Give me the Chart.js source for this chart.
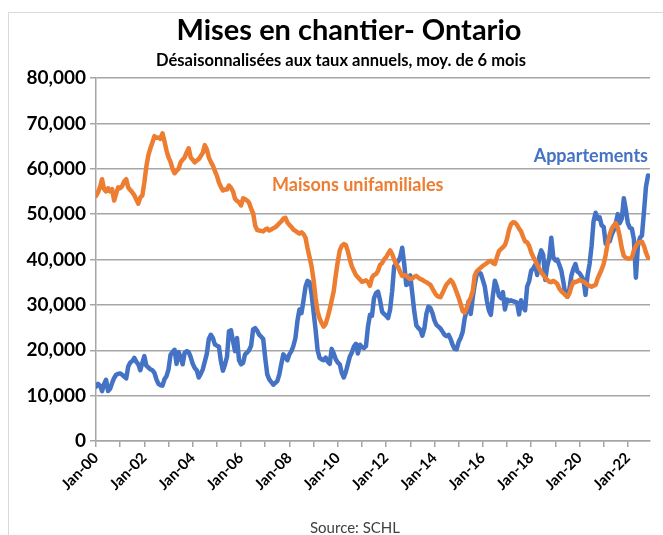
<!DOCTYPE html>
<html>
<head>
<meta charset="utf-8">
<script src="https://cdn.jsdelivr.net/npm/chart.js@4.4.1/dist/chart.umd.min.js"></script>
<style>
  html, body { margin: 0; padding: 0; background: #ffffff; }
  #wrap { width: 663px; height: 535px; position: relative; }
</style>
</head>
<body>
<div id="wrap"><canvas id="c" width="663" height="535"></canvas></div>
<script>
// ---- Data (monthly, Jan-2000 .. Nov-2022), SAAR, 6-month moving average ----
const startYear = 2000;
const xTickLabels = ['Jan-00','Jan-02','Jan-04','Jan-06','Jan-08','Jan-10','Jan-12','Jan-14','Jan-16','Jan-18','Jan-20','Jan-22'];
const seriesNames = ['Maisons unifamiliales', 'Appartements'];

const maisons = [
  54000, 54800, 56000, 57700, 55500, 55000, 55700, 55000, 55500, 53000, 54500, 55900,
  55700, 56200, 57200, 57700, 55900, 55300, 54800, 54200, 53200, 52300, 53700, 54100,
  57000, 60500, 63000, 64500, 65800, 67200, 66800, 66900, 66600, 67800, 66000, 64000,
  62500, 61500, 60000, 59000, 59600, 60000, 61400, 62000, 62500, 63600, 64500, 62500,
  62000, 61400, 61800, 62100, 62800, 63500, 65200, 64300, 62500, 61500, 60700, 59500,
  58500, 57000, 56000, 55200, 55400, 55400, 56300, 55800, 55000, 53400, 52900, 52600,
  51900, 53500, 53300, 53000, 52500, 51200, 50200, 47500, 46500, 46400, 46300, 46200,
  46600, 46800, 46400, 46600, 46900, 47100, 47500, 48000, 48400, 49000, 49200, 48200,
  47600, 47200, 46600, 46300, 46000, 45700, 46000, 45600, 44800, 42500, 40500, 38500,
  35500, 31500, 28500, 27000, 26000, 25200, 25800, 27300, 29000, 31000, 33000, 36500,
  39500, 42000, 43000, 43400, 43200, 41800, 40000, 38500, 37500, 36600, 36100, 35600,
  35100, 35200, 35400, 35000, 34200, 36000, 36600, 36800, 37500, 38800, 39200, 40000,
  40500, 41300, 42000, 41200, 40000, 39000, 38300, 37200, 36400, 36600, 36400, 36000,
  35700, 35800, 36200, 36400, 36000, 35700, 35500, 35200, 35000, 34700, 34400, 33600,
  32800, 32100, 31800, 31700, 32600, 33600, 34500, 35000, 35500, 35000, 34000, 32800,
  31600, 30200, 28600, 28300, 29300, 30600, 31600, 33000, 36500, 37400, 37800, 38200,
  38600, 38900, 39200, 39600, 39700, 39200, 39000, 40500, 41800, 42300, 42700, 43200,
  44500, 46500, 47800, 48200, 48100, 47600, 46800, 46200, 45000, 44000, 43800, 43000,
  41600, 40600, 39800, 38800, 38000, 37200, 36600, 36000, 35500, 35100, 35000, 35300,
  35000, 34600, 33600, 33000, 32600, 32200, 31800, 32500, 34000, 35100, 35000, 35200,
  35500, 35300, 35100, 34800, 34400, 34200, 34000, 34200, 34400, 35800, 36800, 37800,
  39000, 41000, 43600, 45500, 46800, 47500, 48000, 47000, 45000, 42500, 40800, 40400,
  40200, 40200, 40400, 42000, 43000, 43700, 43800, 43900, 43000, 41500, 40400
];

const appartements = [
  12000, 12600, 12200, 11000, 12500, 13500, 11000, 11500, 12800, 13900, 14600, 14800,
  14900, 14600, 14200, 13800, 16400, 17300, 17600, 18300, 17500, 16900, 15600, 17200,
  18700, 16600, 16200, 15800, 15600, 15000, 13600, 12600, 12300, 12200, 13600, 14300,
  15800, 19000, 19600, 20100, 17000, 19600, 18500, 16900, 19400, 19800, 19600, 18500,
  17000, 16100, 15600, 14000, 14800, 15800, 17500, 19200, 22500, 23400, 22700, 21300,
  21000, 20800, 17600, 15500, 16800, 18500, 24200, 24400, 22000, 19800, 22700, 17800,
  16900, 17200, 19100, 19500, 20000, 21000, 24600, 24900, 24300, 23400, 23000, 22500,
  18300, 14700, 13600, 13000, 12400, 12800, 13200, 14700, 17000, 19100, 18500, 17800,
  19100, 19800, 21000, 22700, 26500, 29000, 28200, 31000, 34000, 35300, 35000, 32500,
  28500, 24500, 20000, 18300, 18000, 17800, 18400, 17500, 17000, 20300, 19300, 18000,
  17300, 16900, 15000, 14000, 15200, 16900, 18600, 19500, 20800, 21400, 19300, 21200,
  20700, 20500, 20900, 25200, 27800, 27600, 31500, 32600, 32900, 31000, 28500, 28000,
  27600, 27100, 29000, 33000, 38500, 39100, 39600, 40500, 42600, 39000, 34400, 34600,
  36500, 32500, 28500, 25500, 24900, 24500, 23200, 24800, 28000, 29600, 29300, 28200,
  26600, 25600, 25200, 24800, 24100, 23400, 23100, 23400, 22500, 21200, 20300, 20200,
  21800, 22700, 24000, 27000, 28800, 30800, 28000, 31500, 34500, 36800, 37000, 36900,
  35500, 34000, 31000, 28800, 27800, 32000, 35300, 34000, 32000, 31500, 32800, 29000,
  31200, 30800, 31000, 30800, 30700, 30500, 27900, 31000, 29500, 28800, 34000, 35200,
  37500, 38000, 38800, 36600, 40500, 42000, 41000, 35500, 38600, 40400, 44800, 40500,
  39800, 40000, 38800, 37500, 35000, 32200, 31800, 33500, 36500, 38000, 39000, 37300,
  37000, 36300, 35500, 32200, 36500, 39000, 43000, 48500, 50300, 49000, 49300, 47500,
  47200, 43500, 44500, 44000, 45500, 46500, 48000, 50000, 48000, 49000, 53500, 51000,
  48000, 47000, 46800, 44500, 36000, 43000, 44800, 45300, 50500, 56000, 58500
];

// ---- Texts ----
const TITLE = 'Mises en chantier- Ontario';
const SUBTITLE = 'Désaisonnalisées aux taux annuels, moy. de 6 mois';
const SOURCE = 'Source: SCHL';

// ---- Styling ----
const FONT = 'Lato, Carlito, Calibri, "Open Sans", sans-serif';
const ORANGE = '#ED7D31';
const BLUE = '#4472C4';
const GRID = '#a6a6a6';

const toPoints = arr => arr.map((v, i) => ({ x: i, y: v }));

const textPlugin = {
  id: 'chartTexts',
  afterDraw(chart) {
    const ctx = chart.ctx;
    ctx.save();
    ctx.strokeStyle = '#d9d9d9';
    ctx.lineWidth = 1;
    ctx.strokeRect(8.5, 12.5, 660, 540);

    ctx.textBaseline = 'middle';
    ctx.textAlign = 'center';
    ctx.fillStyle = '#000000';
    ctx.font = 'bold 29px ' + FONT;
    ctx.fillText(TITLE, 349, 31);
    ctx.font = 'bold 16.5px ' + FONT;
    ctx.fillText(SUBTITLE, 341, 61);

    ctx.fillStyle = '#404040';
    ctx.font = '15px ' + FONT;
    ctx.fillText(SOURCE, 355, 528);

    ctx.font = 'bold 18px ' + FONT;
    ctx.fillStyle = BLUE;
    ctx.textAlign = 'right';
    ctx.fillText(seriesNames[1], 648, 156);
    ctx.fillStyle = ORANGE;
    ctx.textAlign = 'left';
    ctx.fillText(seriesNames[0], 272, 185);
    ctx.restore();
  }
};

new Chart(document.getElementById('c'), {
  type: 'line',
  data: {
    datasets: [
      { label: seriesNames[0], data: toPoints(maisons), borderColor: ORANGE, backgroundColor: ORANGE,
        borderWidth: 4.5, pointRadius: 0, tension: 0, fill: false, borderJoinStyle: 'round', borderCapStyle: 'round' },
      { label: seriesNames[1], data: toPoints(appartements), borderColor: BLUE, backgroundColor: BLUE,
        borderWidth: 4.5, pointRadius: 0, tension: 0, fill: false, borderJoinStyle: 'round', borderCapStyle: 'round' }
    ]
  },
  options: {
    responsive: false,
    devicePixelRatio: 1,
    animation: false,
    events: [],
    layout: { padding: { top: 78, right: 13, bottom: 24, left: 0 } },
    plugins: { legend: { display: false }, title: { display: false }, tooltip: { enabled: false } },
    scales: {
      x: {
        type: 'linear', min: 0, max: 275,
        grid: { drawOnChartArea: false, drawTicks: true, tickLength: 6, color: GRID, lineWidth: 1.5 },
        border: { color: GRID, width: 1.5 },
        ticks: {
          stepSize: 12, autoSkip: false, includeBounds: false,
          minRotation: 45, maxRotation: 45, padding: 2,
          color: '#000000', font: { family: FONT, size: 15, weight: 'bold' },
          callback: (v) => (v % 24 === 0 ? xTickLabels[v / 24] : '')
        },
        afterFit: (s) => { s.height = 70; }
      },
      y: {
        min: 0, max: 80000,
        grid: { color: GRID, lineWidth: 1.5, tickLength: 6 },
        border: { color: GRID, width: 1.5 },
        ticks: {
          stepSize: 10000, padding: 4, color: '#000000',
          font: { family: FONT, size: 19, weight: 'bold' },
          callback: (v) => v.toLocaleString('en-US')
        },
        afterFit: (s) => { s.width = 96; }
      }
    }
  },
  plugins: [textPlugin]
});
</script>
</body>
</html>
